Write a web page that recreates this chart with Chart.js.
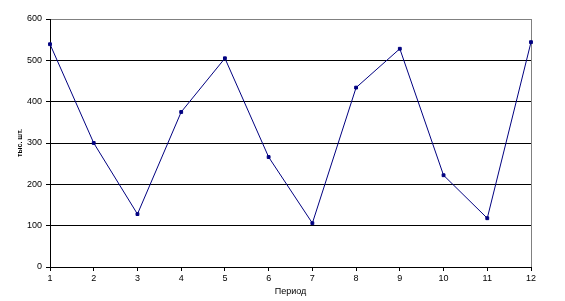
<!DOCTYPE html>
<html>
<head>
<meta charset="utf-8">
<script src="https://cdn.jsdelivr.net/npm/chart.js@4"></script>
<style>
html,body{margin:0;padding:0;background:#fff;}
#wrap{width:565px;height:301px;position:relative;}
</style>
</head>
<body>
<div id="wrap"><canvas id="c" width="565" height="301"></canvas></div>
<script>
const periods = ['1','2','3','4','5','6','7','8','9','10','11','12'];
const values = [539, 300, 128, 375, 505, 266, 106, 434, 528, 222, 118, 544];
const yTicks = [0, 100, 200, 300, 400, 500, 600];
const xTitle = 'Период';
const yTitle = 'тыс. шт.';

const FONT = '"Liberation Sans", Arial, sans-serif';

new Chart(document.getElementById('c'), {
  type: 'line',
  data: {
    labels: periods,
    datasets: [{
      data: values,
      borderColor: '#000080',
      backgroundColor: '#000080',
      borderWidth: 1,
      pointStyle: 'rect',
      pointRadius: 2,
      pointHoverRadius: 2,
      tension: 0,
      fill: false
    }]
  },
  options: {
    responsive: false,
    animation: false,
    devicePixelRatio: 1,
    layout: { padding: { top: 19, right: 34, left: 0, bottom: 0 } },
    plugins: { legend: { display: false }, tooltip: { enabled: false } },
    scales: {
      x: {
        type: 'category',
        offset: false,
        afterFit: s => { s.height = 34; },
        grid: {
          color: c => (c.index === periods.length - 1 ? '#808080' : 'rgba(0,0,0,0)'),
          tickColor: '#000',
          tickLength: 4,
          drawOnChartArea: true
        },
        border: { color: '#000', width: 1 },
        ticks: { color: '#000', font: { family: FONT, size: 9 }, padding: 2, maxRotation: 0, autoSkip: false },
        title: { display: true, text: xTitle, color: '#000', font: { family: FONT, size: 9 }, padding: { top: 0, bottom: 4 } }
      },
      y: {
        min: 0,
        max: 600,
        afterFit: s => { s.width = 50; },
        afterBuildTicks: s => { s.ticks = yTicks.map(v => ({ value: v })); },
        grid: {
          color: c => (c.tick && c.tick.value === 600 ? '#808080' : '#000'),
          tickColor: '#000',
          tickLength: 4
        },
        border: { color: '#000', width: 1 },
        ticks: { color: '#000', font: { family: FONT, size: 9 }, padding: 4 },
        title: { display: true, text: yTitle, color: '#000', font: { family: FONT, size: 7, weight: 'bold' }, padding: { top: 16, bottom: 0 } }
      }
    }
  }
});
</script>
</body>
</html>
